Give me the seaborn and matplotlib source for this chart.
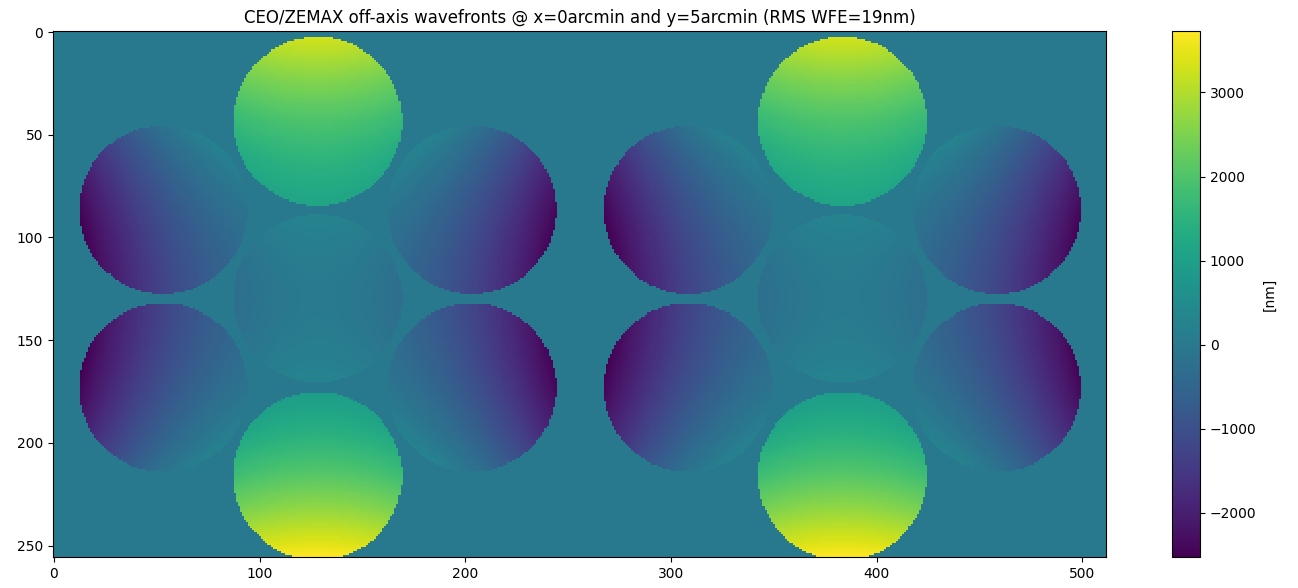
import numpy as np
import matplotlib
matplotlib.use("Agg")
import matplotlib.pyplot as plt
import seaborn as sns

# ---- data ----
n_rows, n_cols = 256, 512
pupil_center_x = [128.2, 383.4]          # CEO (left), ZEMAX (right)
pupil_center_y = 129.7
seg_radius = 41.0
# segment order: center, top, upper-right, lower-right, bottom, lower-left, upper-left
seg_dx = [0.0, 0.0, 75.0, 75.0, 0.0, -75.0, -75.0]
seg_dy = [0.0, -86.3, -43.3, 43.3, 86.3, 43.3, -43.3]
seg_piston = [30.0, 820.0, -150.0, -150.0, 958.0, -195.0, -195.0]   # nm
seg_tilt_y = [0.0, 0.0, 0.0, 0.0, 8.7, 0.0, 0.0]                    # nm / pixel
seg_tilt_x = [0.0, 0.0, 0.0, 0.0, 0.0, 0.0, 0.0]                    # nm / pixel
coef_y2 = 0.155                                                      # nm / pixel^2
coef_x2 = 0.19                                                       # nm / pixel^2
title = "CEO/ZEMAX off-axis wavefronts @ x=0arcmin and y=5arcmin (RMS WFE=19nm)"
x_ticks = [0, 100, 200, 300, 400, 500]
y_ticks = [0, 50, 100, 150, 200, 250]

# ---- build wavefront map ----
rows, cols = np.mgrid[0:n_rows, 0:n_cols].astype(float)
wf = np.zeros((n_rows, n_cols))
for cx in pupil_center_x:
    X = cols - cx
    Y = rows - pupil_center_y
    for dx, dy, p, ty, tx in zip(seg_dx, seg_dy, seg_piston, seg_tilt_y, seg_tilt_x):
        lx = X - dx
        ly = Y - dy
        mask = lx**2 + ly**2 <= seg_radius**2
        val = p + coef_y2 * Y**2 - coef_x2 * X**2 + ty * ly + tx * lx
        wf[mask] = val[mask]

# ---- plot ----
fig = plt.figure(figsize=(12.98, 5.88), dpi=100)
ax = fig.add_axes([0.0408, 0.0527, 0.8112, 0.8946])
cax = fig.add_axes([0.903, 0.0527, 0.0216, 0.8946])

sns.heatmap(wf, ax=ax, cbar_ax=cax, cmap="viridis",
            xticklabels=False, yticklabels=False,
            cbar_kws={"label": "[nm]"})

for s in ax.spines.values():
    s.set_visible(True)
    s.set_linewidth(0.8)
    s.set_color("black")
ax.set_xticks([t + 0.5 for t in x_ticks])
ax.set_xticklabels([str(t) for t in x_ticks], rotation=0)
ax.set_yticks([t + 0.5 for t in y_ticks])
ax.set_yticklabels([str(t) for t in y_ticks], rotation=0)
ax.tick_params(axis="both", which="both", length=3.5, width=0.8,
               direction="out", labelsize=10, bottom=True, left=True)
ax.set_title(title, fontsize=12)

cb = ax.collections[0].colorbar
cb.outline.set_visible(True)
cb.outline.set_linewidth(0.8)
cb.ax.tick_params(labelsize=10, length=3.5, width=0.8)
cb.set_label("[nm]", fontsize=10)

fig.savefig("out.png", dpi=100)
